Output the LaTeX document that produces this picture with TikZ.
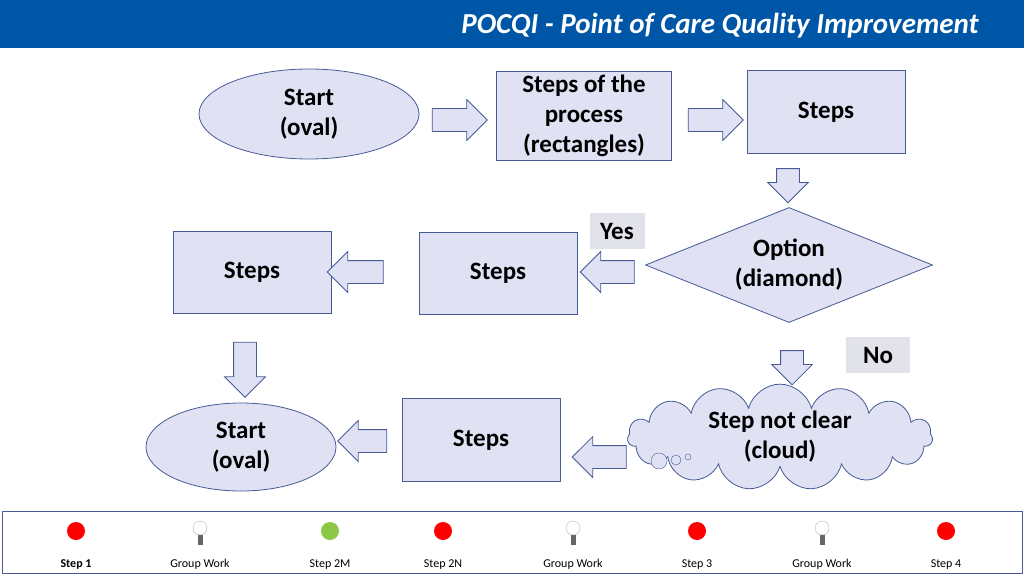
\documentclass[tikz,border=0pt]{standalone}
\usepackage{fontspec}
\setmainfont{Carlito}
\usetikzlibrary{shapes.geometric,shapes.arrows,shapes.symbols}
\definecolor{boxfill}{RGB}{224,226,244}
\definecolor{boxline}{RGB}{70,90,150}
\definecolor{barblue}{RGB}{0,86,166}
\definecolor{dotred}{RGB}{255,0,0}
\definecolor{dotgreen}{RGB}{140,200,70}
\tikzstyle{stepbox}= [rectangle,draw=boxline,fill=boxfill,thick,align=center,font=\fontsize{25}{30}\selectfont\bfseries]
\tikzstyle{startoval}= [ellipse,draw=boxline,fill=boxfill,thick,align=center,font=\fontsize{25}{30}\selectfont\bfseries]
\tikzstyle{tag}= [rectangle,fill=boxfill!80!gray!60,inner sep=0pt,font=\fontsize{25}{30}\selectfont\bfseries]
\tikzstyle{blockarrow}= [single arrow,draw=boxline,fill=boxfill,thick,inner sep=11pt,single arrow head extend=9pt]
\tikzstyle{dot}= [circle,inner sep=0pt,minimum size=18pt]
\tikzstyle{legend}= [anchor=base,font=\fontsize{12}{14}\selectfont]
\begin{document}
\begin{tikzpicture}[x=1pt,y=-1pt]
		\useasboundingbox (0,0) rectangle (1024,575);

		% title bar
		\fill[barblue] (0,0) rectangle (1024,48);
		\node (title) at (720,26) [text=white,font=\fontsize{29}{33}\selectfont\bfseries\itshape] {POCQI - Point of Care Quality Improvement};

		% top row
		\node (start) at (309,114) [startoval,minimum width=220,minimum height=90] {Start\\(oval)};
		\node (process) at (584,116) [stepbox,minimum width=175,minimum height=88] {Steps of the\\process\\(rectangles)};
		\node (steps1) at (826,112) [stepbox,minimum width=158,minimum height=83] {Steps};

		% middle row
		\node (option) at (789,265) [diamond,draw=boxline,fill=boxfill,thick,aspect=2.5,inner sep=0pt,minimum width=287,minimum height=115,align=center,font=\fontsize{25}{30}\selectfont\bfseries] {Option\\(diamond)};
		\node (yes) at (617,231) [tag,minimum width=55,minimum height=36] {Yes};
		\node (steps2) at (498,273) [stepbox,minimum width=158,minimum height=82] {Steps};
		\node (steps3) at (252,272) [stepbox,minimum width=158,minimum height=82] {Steps};

		% bottom row
		\node (no) at (878,355) [tag,minimum width=64,minimum height=36] {No};
		\node (cloud) at (780,437) [cloud,cloud puffs=15,aspect=3,draw=boxline,fill=boxfill,thick,inner sep=0pt,minimum width=305,minimum height=100,align=center,font=\fontsize{25}{30}\selectfont\bfseries] {Step not clear\\(cloud)};
		\node (b1) at (659,461) [circle,draw=boxline,fill=boxfill,minimum size=16pt,inner sep=0pt] {};
		\node (b2) at (676,460) [circle,draw=boxline,fill=boxfill,minimum size=10pt,inner sep=0pt] {};
		\node (b3) at (688,457) [circle,draw=boxline,fill=boxfill,minimum size=6pt,inner sep=0pt] {};
		\node (steps4) at (481,440) [stepbox,minimum width=158,minimum height=83] {Steps};
		\node (end) at (241,447) [startoval,minimum width=190,minimum height=88] {Start\\(oval)};

		% block arrows
		\node (a1) at (454,120) [blockarrow,minimum height=55] {};
		\node (a2) at (710,120) [blockarrow,minimum height=55] {};
		\node (a3) at (788,180) [blockarrow,shape border rotate=270,minimum height=34] {};
		\node (a4) at (613,272) [blockarrow,shape border rotate=180,minimum height=54] {};
		\node (a5) at (361,272) [blockarrow,shape border rotate=180,minimum height=56] {};
		\node (a6) at (245,364) [blockarrow,shape border rotate=270,minimum height=55] {};
		\node (a7) at (792,362) [blockarrow,shape border rotate=270,minimum height=33] {};
		\node (a8) at (605,457) [blockarrow,shape border rotate=180,minimum height=54] {};
		\node (a9) at (368,441) [blockarrow,shape border rotate=180,minimum height=49] {};

		% legend bar
		\draw[boxline,thick] (2,511) rectangle (1022,573);
		\foreach \x/\t [count=\i] in {76/\textbf{Step 1},200/Group Work,330/Step 2M,443/Step 2N,573/Group Work,697/Step 3,822/Group Work,946/Step 4}
			\node (lab\i) at (\x,567) [legend] {\t};
		\foreach \x/\c [count=\i] in {76/dotred,330/dotgreen,443/dotred,697/dotred,946/dotred}
			\node (dot\i) at (\x,531) [dot,fill=\c] {};
		\foreach \x [count=\i] in {200,573,822}{
			\node (bulb\i) at (\x,528) [circle,draw=gray!60,fill=white,inner sep=0pt,minimum size=14pt] {};
			\fill[gray!80!black] (\x-2.5,535) rectangle (\x+2.5,545);
		}

	\end{tikzpicture}
\end{document}
